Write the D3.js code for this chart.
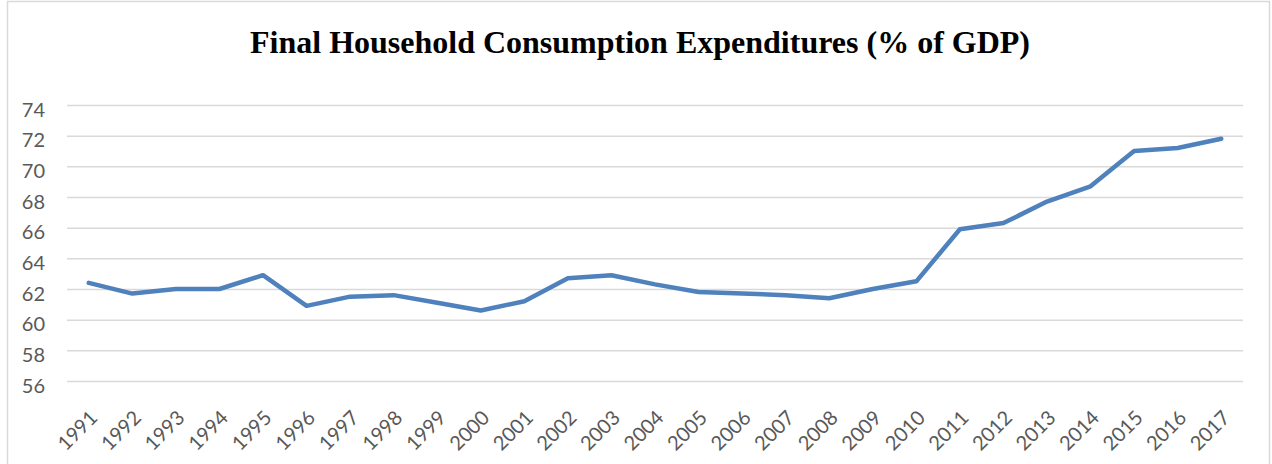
<!DOCTYPE html>
<html><head><meta charset="utf-8">
<script src="https://cdn.jsdelivr.net/npm/d3@7"></script>
<style>body{margin:0;background:#fff}svg{display:block}</style>
</head><body>
<svg id="c" width="1272" height="464"></svg>
<script>
const years = ["1991","1992","1993","1994","1995","1996","1997","1998","1999","2000","2001","2002","2003","2004","2005","2006","2007","2008","2009","2010","2011","2012","2013","2014","2015","2016","2017"];
const values = [62.4,61.7,62.0,62.0,62.9,60.9,61.5,61.6,61.1,60.6,61.2,62.7,62.9,62.3,61.8,61.7,61.6,61.4,62.0,62.5,65.9,66.3,67.7,68.7,71.0,71.2,71.8];
const yTicks = [56,58,60,62,64,66,68,70,72,74];
const title = "Final Household Consumption Expenditures (% of GDP)";

const svg = d3.select("#c");
svg.append("rect").attr("x",7.5).attr("y",1.5).attr("width",1262).attr("height",480)
  .attr("fill","#fff").attr("stroke","#D9D9D9").attr("stroke-width",1.5);

const L=67, R=1243, T=105, B=381;
const x = d3.scaleBand().domain(years).range([L,R]);
const y = d3.scaleLinear().domain([56,74]).range([B,T]);

svg.append("text").attr("x",640).attr("y",53).attr("text-anchor","middle")
  .attr("font-family","'Liberation Serif','Times New Roman',serif").attr("font-weight","bold")
  .attr("font-size",32).attr("fill","#000").text(title);

const ga = svg.append("g").attr("transform",`translate(${L},0)`)
  .call(d3.axisLeft(y).tickValues(yTicks).tickSize(-(R-L)).tickPadding(22));
ga.select(".domain").remove();
ga.selectAll(".tick line").attr("stroke","#D9D9D9").attr("stroke-width",1.5);
ga.selectAll(".tick text").attr("font-family","Lato,'Open Sans',sans-serif").attr("font-size",20).attr("fill","#595959")
  .attr("dy","0.55em");

const gx = svg.append("g").attr("transform",`translate(0,${B})`)
  .call(d3.axisBottom(x).tickSize(0).tickPadding(0));
gx.select(".domain").remove();
gx.selectAll(".tick text").attr("font-family","Lato,'Open Sans',sans-serif").attr("font-size",20).attr("fill","#595959")
  .attr("text-anchor","end").attr("dy",0).attr("y",0)
  .attr("transform","translate(10,38) rotate(-45)");

const line = d3.line().x((d,i)=>x(years[i])+x.bandwidth()/2).y(d=>y(d));
svg.append("path").datum(values).attr("d",line).attr("fill","none")
  .attr("stroke","#4F81BD").attr("stroke-width",4.5).attr("stroke-linejoin","round").attr("stroke-linecap","round");
</script>
</body></html>
